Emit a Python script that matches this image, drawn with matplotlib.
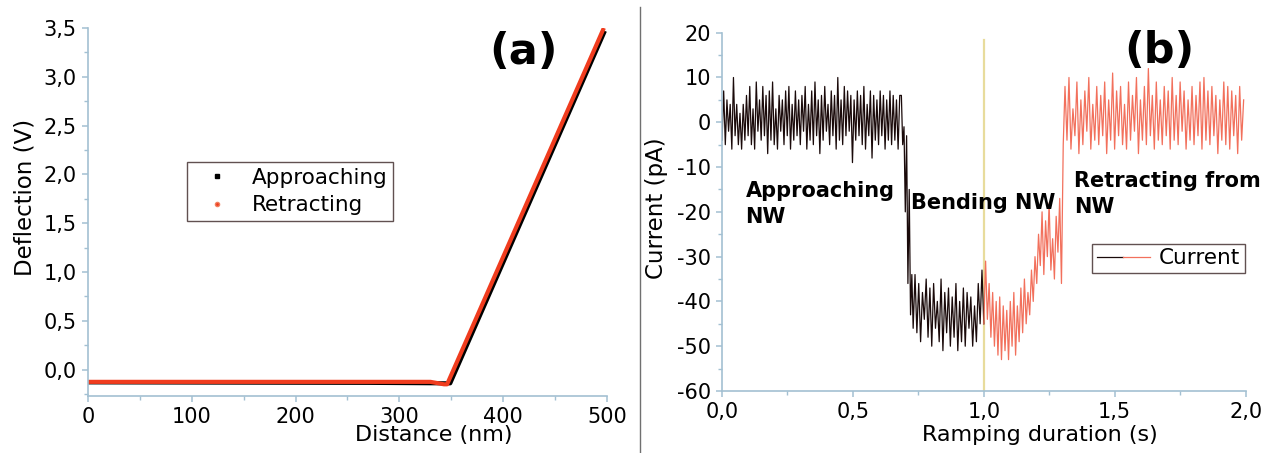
import numpy as np
import matplotlib
matplotlib.use('Agg')
import matplotlib.pyplot as plt
from matplotlib.lines import Line2D
from matplotlib.legend_handler import HandlerTuple
from matplotlib.ticker import MultipleLocator, FuncFormatter

plt.rcParams['font.family'] = ['DejaVu Sans']

# ---- panel (a): force curve knots ----
approach_dist = [0, 270, 345, 349, 498]
approach_defl = [-0.13, -0.135, -0.14, -0.14, 3.47]
retract_dist = [0, 330, 343, 346, 497]
retract_defl = [-0.125, -0.125, -0.15, -0.15, 3.5]

# ---- panel (b): current trace, read segment by segment ----
seg_bounds = [0.0, 0.685, 0.73, 1.0, 1.31, 2.0]
cur_approach = [-4, 7, -5, 5, -2, 4, -6, 10, -3, 4, -5, 2, -6, 4, -4, 6, -3, 8, -5, 3,
                -6, 9, -2, 5, -4, 8, -3, 6, -7, 7, -4, 9, -5, 3, -6, 6, -2, 5, -5, 7,
                -3, 8, -6, 4, -4, 7, -3, 5, -5, 6, -2, 8, -6, 4, -4, 7, -5, 9, -3, 5,
                -7, 6, -4, 8, -2, 4, -5, 7, -3, 6, -6, 10, -4, 5, -5, 8, -3, 7, -2, 6,
                -9, 5, -4, 7, -3, 6, -5, 8, -6, 4, -3, 7, -8, 6, -4, 5, -5, 7, -3, 6,
                -6, 5, -4, 7, -5, 6, -4, 5, -6, 6]
cur_drop = [6, -5, -1, -20, -3, -36, -15, -43, -34]
cur_bending = [-46, -34, -47, -36, -49, -38, -44, -35, -48, -37, -50, -36, -46, -40,
               -49, -35, -51, -38, -47, -37, -50, -39, -48, -36, -51, -40, -49, -37,
               -50, -38, -46, -39, -50, -41, -49, -36, -45, -33]
cur_release = [-45, -31, -44, -36, -48, -38, -50, -40, -52, -39, -53, -41, -51, -42,
               -53, -40, -50, -38, -52, -41, -49, -37, -47, -35, -45, -38, -43, -33,
               -40, -30, -36, -25, -32, -20, -34, -22, -30, -18, -33, -26, -35, -21,
               -29, -17, -36, -5]
cur_retract = [8, -4, 10, -6, 3, -3, 9, -7, 5, -5, 7, -2, 10, -6, 4, -4, 8, -5, 6, -3,
               9, -7, 5, -4, 11, -6, 7, -3, 8, -5, 4, -6, 9, -4, 6, -2, 10, -7, 5, -4,
               8, -5, 12, -3, 6, -6, 9, -4, 5, -5, 8, -3, 7, -6, 10, -4, 6, -5, 9, -2,
               7, -6, 5, -4, 8, -5, 6, -3, 9, -6, 10, -4, 7, -5, 8, -3, 6, -7, 5, -4,
               9, -5, 8, -6, 7, -3, 6, -7, 8, -4, 5]
marker_time = 1.0
marker_top = 18.3

axis_col = '#a3c0d2'


def comma1(v, p):
    return ('%.1f' % v).replace('.', ',')


def style_axes(ax):
    for s in ['top', 'right']:
        ax.spines[s].set_visible(False)
    for s in ['left', 'bottom']:
        ax.spines[s].set_color(axis_col)
        ax.spines[s].set_linewidth(1.2)
    ax.tick_params(which='major', direction='out', length=4, width=1.1, color=axis_col,
                   labelsize=15, pad=4)
    ax.tick_params(which='minor', direction='out', length=3, width=1.0, color=axis_col)


fig = plt.figure(figsize=(12.73, 4.53), dpi=100)

# ---------------- (a) ----------------
ax1 = fig.add_axes([0.0691, 0.1258, 0.4077, 0.8124])
ax1.plot(approach_dist, approach_defl, color='black', lw=3.0, solid_capstyle='butt')
ax1.plot(retract_dist, retract_defl, color='#f03c1e', lw=3.0, solid_capstyle='butt')
ax1.set_xlim(0, 500)
ax1.set_ylim(-0.27, 3.5)
ax1.xaxis.set_major_locator(MultipleLocator(100))
ax1.xaxis.set_minor_locator(MultipleLocator(50))
ax1.yaxis.set_major_locator(MultipleLocator(0.5))
ax1.yaxis.set_minor_locator(MultipleLocator(0.25))
ax1.yaxis.set_major_formatter(FuncFormatter(comma1))
style_axes(ax1)
ax1.set_xlabel('Distance (nm)', fontsize=16)
ax1.set_ylabel('Deflection (V)', fontsize=16.5)
ax1.xaxis.set_label_coords(0.667, -0.08)
ax1.yaxis.set_label_coords(-0.1, 0.54)
ax1.text(0.84, 0.935, '(a)', transform=ax1.transAxes, fontsize=31, fontweight='bold',
         ha='center', va='center')
h_app = Line2D([], [], ls='none', marker='s', ms=3, color='black')
h_ret = Line2D([], [], ls='none', marker='o', ms=3, color='#f03c1e', mec='#f08060')
leg1 = ax1.legend([h_app, h_ret], ['Approaching', 'Retracting'], loc='upper left',
                  bbox_to_anchor=(0.19, 0.635), fontsize=15.5, frameon=True, fancybox=False,
                  handlelength=2.3, handletextpad=0.5, borderpad=0.25, labelspacing=0.35,
                  borderaxespad=0)
leg1.get_frame().set_edgecolor('#3a2626')
leg1.get_frame().set_linewidth(1.0)

# ---------------- (b) ----------------
segs = [cur_approach, cur_drop, cur_bending, cur_release, cur_retract]
times = [np.linspace(seg_bounds[i], seg_bounds[i + 1], len(s), endpoint=False)
         for i, s in enumerate(segs)]
t_black = np.concatenate(times[:3])
c_black = np.concatenate(segs[:3])
t_red = np.concatenate(times[3:])
c_red = np.concatenate(segs[3:])
# join the two colours at the marker time
t_black = np.append(t_black, t_red[0])
c_black = np.append(c_black, c_red[0])

ax2 = fig.add_axes([0.5672, 0.1369, 0.4113, 0.7909])
ax2.plot([marker_time, marker_time], [-60, marker_top], color='#e8dc9c', lw=1.6, zorder=1)
ln_b, = ax2.plot(t_black, c_black, color='#1a0a0a', lw=0.9, zorder=2)
ln_r, = ax2.plot(t_red, c_red, color='#f2705c', lw=0.9, zorder=2)
ax2.set_xlim(0, 2.0)
ax2.set_ylim(-60, 20)
ax2.xaxis.set_major_locator(MultipleLocator(0.5))
ax2.xaxis.set_minor_locator(MultipleLocator(0.25))
ax2.yaxis.set_major_locator(MultipleLocator(10))
ax2.yaxis.set_minor_locator(MultipleLocator(5))
ax2.xaxis.set_major_formatter(FuncFormatter(comma1))
ax2.yaxis.set_major_formatter(FuncFormatter(lambda v, p: '%d' % v))
style_axes(ax2)
ax2.set_xlabel('Ramping duration (s)', fontsize=16)
ax2.set_ylabel('Current (pA)', fontsize=16.5)
ax2.xaxis.set_label_coords(0.607, -0.095)
ax2.yaxis.set_label_coords(-0.103, 0.51)
ax2.text(0.836, 0.95, '(b)', transform=ax2.transAxes, fontsize=31, fontweight='bold',
         ha='center', va='center')
ax2.text(0.09, -18.3, 'Approaching\nNW', fontsize=15, fontweight='bold',
         ha='left', va='center', linespacing=1.35)
ax2.text(0.72, -18.1, 'Bending NW', fontsize=15, fontweight='bold',
         ha='left', va='center')
ax2.text(1.345, -16.0, 'Retracting from\nNW', fontsize=15, fontweight='bold',
         ha='left', va='center', linespacing=1.35)
leg2 = ax2.legend([(ln_b, ln_r)], ['Current'], handler_map={tuple: HandlerTuple(ndivide=None, pad=0)},
                  loc='upper left', bbox_to_anchor=(0.707, 0.41), fontsize=15.5, frameon=True,
                  fancybox=False, handlelength=2.5, handletextpad=0.4, borderpad=0.2,
                  borderaxespad=0)
leg2.get_frame().set_edgecolor('#3a2626')
leg2.get_frame().set_linewidth(1.0)

# divider between the two panels
fig.add_artist(Line2D([0.5027, 0.5027], [0.0, 0.985], color='#707070', lw=1.0))

fig.savefig('out.png', dpi=100)
